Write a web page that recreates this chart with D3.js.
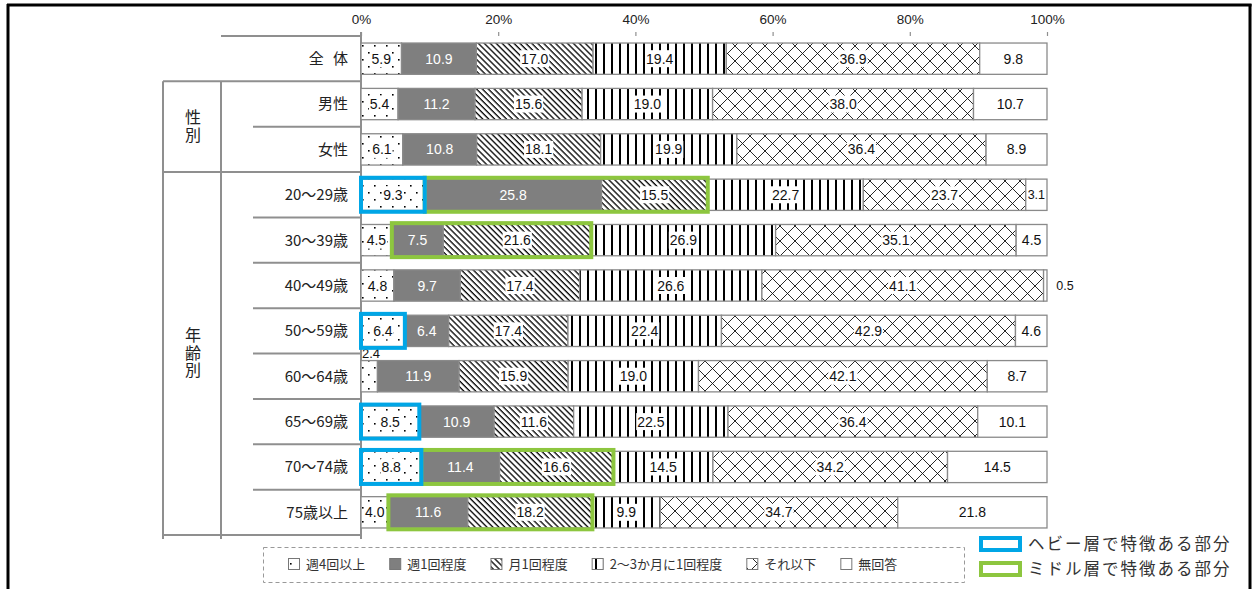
<!DOCTYPE html>
<html><head><meta charset="utf-8">
<script src="https://cdn.jsdelivr.net/npm/d3@7"></script>
<style>body{margin:0;background:#fff}svg{display:block}</style>
</head><body><svg id="c" width="1253" height="589"></svg>
<script>
// ---------- data ----------
const categories = ["全 体","男性","女性","20～29歳","30～39歳","40～49歳","50～59歳","60～64歳","65～69歳","70～74歳","75歳以上"];
const seriesNames = ["週4回以上","週1回程度","月1回程度","2～3か月に1回程度","それ以下","無回答"];
const week4 = [5.9,5.4,6.1,9.3,4.5,4.8,6.4,2.4,8.5,8.8,4.0];
const week1 = [10.9,11.2,10.8,25.8,7.5,9.7,6.4,11.9,10.9,11.4,11.6];
const month1 = [17.0,15.6,18.1,15.5,21.6,17.4,17.4,15.9,11.6,16.6,18.2];
const months23 = [19.4,19.0,19.9,22.7,26.9,26.6,22.4,19.0,22.5,14.5,9.9];
const less = [36.9,38.0,36.4,23.7,35.1,41.1,42.9,42.1,36.4,34.2,34.7];
const noAnswer = [9.8,10.7,8.9,3.1,4.5,0.5,4.6,8.7,10.1,14.5,21.8];
const tickValues = [0,20,40,60,80,100];
const groupNames = ["性別","年齢別"];
const groupRows = [["男性","女性"],["20～29歳","30～39歳","40～49歳","50～59歳","60～64歳","65～69歳","70～74歳","75歳以上"]];
const heavyRows = ["20～29歳","50～59歳","65～69歳","70～74歳"];
const middleRows = ["20～29歳","30～39歳","70～74歳","75歳以上"];
const highlightLegend = ["ヘビー層で特徴ある部分","ミドル層で特徴ある部分"];

// ---------- setup ----------
const svg = d3.select("#c");
const defs = svg.append("defs");
const JP = "'Noto Sans CJK JP','Noto Sans',sans-serif";
const NUM = "'Liberation Sans',Arial,sans-serif";
const GRID = "#8f8f8f";

// patterns
const pDots = defs.append("pattern").attr("id","pDots").attr("patternUnits","userSpaceOnUse").attr("width",12).attr("height",14);
pDots.append("rect").attr("width",12).attr("height",14).attr("fill","#fff");
pDots.append("rect").attr("x",2).attr("y",3).attr("width",1.6).attr("height",1.6).attr("fill","#000");
pDots.append("rect").attr("x",8).attr("y",10).attr("width",1.6).attr("height",1.6).attr("fill","#000");

const pHatch = defs.append("pattern").attr("id","pHatch").attr("patternUnits","userSpaceOnUse").attr("width",4.2).attr("height",10).attr("patternTransform","rotate(-45)");
pHatch.append("rect").attr("width",4.2).attr("height",10).attr("fill","#fff");
pHatch.append("line").attr("x1",1).attr("x2",1).attr("y1",0).attr("y2",10).attr("stroke","#000").attr("stroke-width",1.3);

const pVert = defs.append("pattern").attr("id","pVert").attr("patternUnits","userSpaceOnUse").attr("width",8).attr("height",10);
pVert.append("rect").attr("width",8).attr("height",10).attr("fill","#fff");
pVert.append("rect").attr("x",3).attr("width",2).attr("height",10).attr("fill","#000");

const pCross = defs.append("pattern").attr("id","pCross").attr("patternUnits","userSpaceOnUse").attr("width",15).attr("height",15).attr("y",1);
pCross.append("rect").attr("width",15).attr("height",15).attr("fill","#fff");
pCross.append("path").attr("d","M0,0L15,15M15,0L0,15").attr("stroke","#111").attr("stroke-width",0.9).attr("fill","none");

const fills = ["url(#pDots)","#7f7f7f","url(#pHatch)","url(#pVert)","url(#pCross)","#fff"];

// scales
const x = d3.scaleLinear().domain([0,1]).range([361,1047]);
const y = d3.scaleBand().domain(categories).range([36,535]).paddingInner(0.31).paddingOuter(0.155);
const step = y.step();
const boundary = i => 36 + i*step;

// stacked data (100% stacked)
const seriesArrays = [week4,week1,month1,months23,less,noAnswer];
const rows = categories.map((c,i)=>{ const o={cat:c}; seriesNames.forEach((s,k)=>o[s]=seriesArrays[k][i]); return o; });
const stacked = d3.stack().keys(seriesNames).offset(d3.stackOffsetExpand)(rows);

// ---------- frame ----------
svg.append("line").attr("x1",7).attr("x2",1251.5).attr("y1",5).attr("y2",5).attr("stroke","#000").attr("stroke-width",3);
svg.append("line").attr("x1",8).attr("x2",8).attr("y1",4).attr("y2",589).attr("stroke","#000").attr("stroke-width",3);
svg.append("line").attr("x1",1250).attr("x2",1250).attr("y1",4).attr("y2",589).attr("stroke","#000").attr("stroke-width",3);

// ---------- axis ----------
const axis = svg.append("g").attr("transform","translate(0,36)")
  .call(d3.axisTop(x).tickValues(tickValues.map(v=>v/100)).tickSize(4).tickPadding(8).tickFormat(d=>Math.round(d*100)+"%"));
axis.select(".domain").remove();
axis.selectAll(".tick line").attr("stroke",GRID).attr("stroke-width",1.2);
axis.selectAll(".tick text").attr("font-family",NUM).attr("font-size",13.5).attr("fill","#222");

// ---------- left table ----------
const tbl = svg.append("g").attr("stroke",GRID).attr("stroke-width",2);
tbl.append("line").attr("x1",221).attr("x2",361).attr("y1",36).attr("y2",36);
for(let i=1;i<=categories.length;i++){
  const isGroupEdge = (i===1 || i===3 || i===categories.length);
  tbl.append("line").attr("x1",isGroupEdge?163:253).attr("x2",361).attr("y1",boundary(i)).attr("y2",boundary(i));
}
tbl.append("line").attr("x1",163).attr("x2",163).attr("y1",boundary(1)).attr("y2",boundary(categories.length)+4);
tbl.append("line").attr("x1",221).attr("x2",221).attr("y1",boundary(1)).attr("y2",boundary(categories.length)+4);
tbl.append("line").attr("x1",361).attr("x2",361).attr("y1",32).attr("y2",boundary(categories.length)+4);

// row labels
svg.append("g").selectAll("text").data(categories).join("text")
  .attr("x",348).attr("y",d=>y(d)+y.bandwidth()/2).attr("dy","0.36em")
  .attr("text-anchor","end").attr("font-family",JP).attr("font-size",15).attr("fill","#222")
  .attr("word-spacing",d=>d==="全 体"?6:0)
  .attr("xml:space","preserve")
  .text(d=>d);

// group labels (vertical writing)
groupNames.forEach((g,gi)=>{
  const rs = groupRows[gi];
  const top = y(rs[0]) - step*0.155, bot = y(rs[rs.length-1]) + y.bandwidth() + step*0.155;
  const cy = (top+bot)/2;
  svg.append("text").attr("x",193).attr("y",cy)
    .attr("font-family",JP).attr("font-size",16).attr("fill","#222")
    .attr("text-anchor","middle").attr("dominant-baseline","central")
    .style("writing-mode","vertical-rl").style("text-orientation","upright")
    .attr("letter-spacing",1.5)
    .text(g);
});

// ---------- bars ----------
const barG = svg.append("g");
stacked.forEach((layer,k)=>{
  barG.append("g").selectAll("rect").data(layer).join("rect")
    .attr("x",d=>x(d[0])).attr("width",d=>x(d[1])-x(d[0]))
    .attr("y",d=>y(d.data.cat)).attr("height",y.bandwidth())
    .attr("fill",fills[k]).attr("stroke","#8a8a8a").attr("stroke-width",1.3);
});

// labels
const labG = svg.append("g");
stacked.forEach((layer,k)=>{
  layer.forEach(d=>{
    const v = d.data[seriesNames[k]];
    const cy = y(d.data.cat)+y.bandwidth()/2;
    let tx = (x(d[0])+x(d[1]))/2, ty = cy, anchor="middle", bg = (k!==1 && k!==5), fs=14;
    if (v < 1){ tx = x(1)+18; bg=false; fs=12.5; }
    else if (k===0 && v < 3){ tx = x(d[0])+1; ty = y(d.data.cat)-7; anchor="start"; bg=false; fs=13; }
    else if (x(d[1])-x(d[0]) < 26){ fs=12.5; }
    const t = labG.append("text").attr("x",tx).attr("y",ty).attr("dy","0.36em")
      .attr("text-anchor",anchor).attr("font-family",NUM).attr("font-size",fs)
      .attr("fill",k===1 && v>=1 ? "#fff" : "#111").text(v.toFixed(1));
    if (bg){
      const w = t.node().getComputedTextLength();
      labG.insert("rect",()=>t.node()).attr("x",tx-w/2-1).attr("y",cy-8.5).attr("width",w+2).attr("height",17).attr("fill","#fff");
    }
  });
});

// ---------- highlight boxes ----------
const hl = svg.append("g").attr("fill","none").attr("stroke-width",4);
middleRows.forEach(c=>{
  const i = categories.indexOf(c);
  const x0 = x(stacked[1][i][0]), x1 = x(stacked[2][i][1]);
  const cy = y(c)+y.bandwidth()/2;
  hl.append("rect").attr("x",x0).attr("y",cy-17).attr("width",x1-x0).attr("height",34).attr("stroke","#8dc63f");
});
heavyRows.forEach(c=>{
  const i = categories.indexOf(c);
  const x0 = x(stacked[0][i][0]), x1 = x(stacked[0][i][1]);
  const cy = y(c)+y.bandwidth()/2;
  hl.append("rect").attr("x",x0).attr("y",cy-17).attr("width",x1-x0).attr("height",34).attr("stroke","#00a6e6");
});

// ---------- legend ----------
svg.append("rect").attr("x",263.5).attr("y",547.5).attr("width",701).attr("height",35)
  .attr("fill","none").attr("stroke","#999").attr("stroke-dasharray","4,3").attr("stroke-width",1);
let lx = 288;
seriesNames.forEach((s,k)=>{
  svg.append("rect").attr("x",lx+0.5).attr("y",558.5).attr("width",11).attr("height",11)
    .attr("fill",fills[k]).attr("stroke","#777").attr("stroke-width",1);
  const t = svg.append("text").attr("x",lx+18).attr("y",564).attr("dy","0.36em")
    .attr("font-family",JP).attr("font-size",13).attr("fill","#333").text(s);
  lx += 18 + t.node().getComputedTextLength() + 24;
});

// highlight legend
const hlColors = ["#00a6e6","#8dc63f"];
highlightLegend.forEach((s,k)=>{
  const cy = 544 + k*25;
  svg.append("rect").attr("x",981).attr("y",cy-6).attr("width",39).attr("height",12)
    .attr("fill","none").attr("stroke",hlColors[k]).attr("stroke-width",4);
  svg.append("text").attr("x",1028).attr("y",cy).attr("dy","0.36em")
    .attr("font-family",JP).attr("font-size",16.5).attr("letter-spacing",2).attr("fill","#333").text(s);
});
</script></body></html>
